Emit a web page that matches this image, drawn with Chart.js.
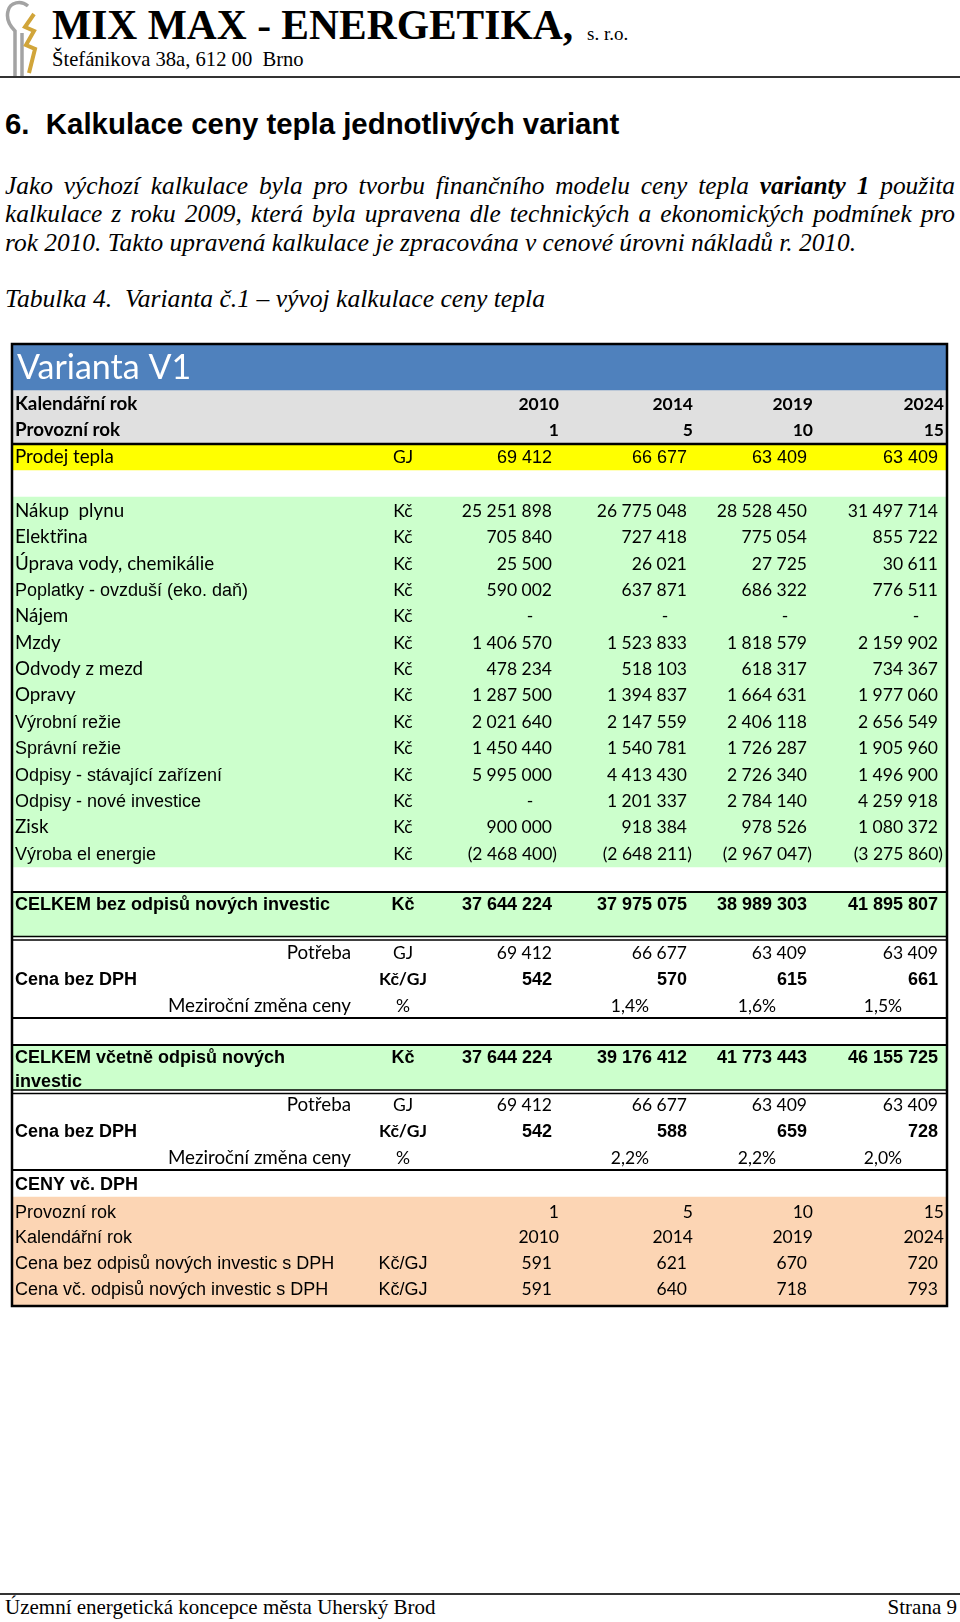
<!DOCTYPE html>
<html lang="cs">
<head>
<meta charset="utf-8">
<title>Varianta V1 – vývoj kalkulace ceny tepla</title>
<script src="https://cdn.jsdelivr.net/npm/chart.js@4.4.1/dist/chart.umd.min.js"></script>
<style>
  html, body { margin: 0; padding: 0; background: #fff; }
  body { width: 960px; height: 1622px; position: relative; overflow: hidden; }
  .abs { position: absolute; white-space: nowrap; line-height: 1; }
  .serif { font-family: "Liberation Serif", "Times New Roman", serif; }
  .sans { font-family: "Liberation Sans", Arial, sans-serif; }
  .it { font-style: italic; }
  .just { text-align: justify; text-align-last: justify; }
  .rule { position: absolute; left: 0; width: 960px; height: 2px; background: #333; }
  #tabulka { position: absolute; left: 0; top: 340px; width: 960px; height: 970px; }
</style>
</head>
<body>

<!-- hlavička firmy -->
<svg class="abs" style="left:0;top:0" width="46" height="80" viewBox="0 0 46 80">
  <path d="M28 6 C21 0 10 2 8 11 C6 19 10 26 15 31 L15 77" fill="none" stroke="#a3a3a3" stroke-width="3.5"/>
  <path d="M22 33 L22 77" fill="none" stroke="#a3a3a3" stroke-width="3.5"/>
  <path d="M34 14 L25 27 L34 31 L26 45 L35 49 L29 73" fill="none" stroke="#d1a53a" stroke-width="4" stroke-linejoin="miter"/>
</svg>
<div class="abs serif" style="left:52px;top:5px;font-size:41.5px;font-weight:bold">MIX MAX - ENERGETIKA,</div>
<div class="abs serif" style="left:587px;top:24px;font-size:19px">s. r.o.</div>
<div class="abs serif" style="left:52px;top:49px;font-size:20.6px">Štefánikova 38a, 612 00&nbsp; Brno</div>
<div class="rule" style="top:76px"></div>

<div class="abs sans" style="left:5px;top:109px;font-size:29.4px;font-weight:bold">6.&nbsp; Kalkulace ceny tepla jednotlivých variant</div>

<div class="abs serif it just" style="left:5px;top:173px;width:950px;font-size:25.4px">Jako výchozí kalkulace byla pro tvorbu finančního modelu ceny tepla <b>varianty 1</b> použita</div>
<div class="abs serif it just" style="left:5px;top:201px;width:950px;font-size:25.4px">kalkulace z roku 2009, která byla upravena dle technických a ekonomických podmínek pro</div>
<div class="abs serif it" style="left:5px;top:230px;font-size:25.4px">rok 2010. Takto upravená kalkulace je zpracována v cenové úrovni nákladů r. 2010.</div>

<div class="abs serif it" style="left:5px;top:286px;font-size:25.6px">Tabulka 4.&nbsp; Varianta č.1 – vývoj kalkulace ceny tepla</div>

<div id="tabulka"><canvas id="graf" width="960" height="970"></canvas></div>

<div class="rule" style="top:1593px"></div>
<div class="abs serif" style="left:5px;top:1597px;font-size:21px">Územní energetická koncepce města Uherský Brod</div>
<div class="abs serif" style="right:3px;top:1597px;font-size:21px">Strana 9</div>

<script>
// Záhlaví sloupců
const kalendarniRok = [2010, 2014, 2019, 2024];
const provozniRok = [1, 5, 10, 15];
const hlavickaRadky = ['Kalendářní rok', 'Provozní rok'];

const prodejTepla = [69412, 66677, 63409, 63409];

// Nákladové položky (Kč)
const polozky = [
    'Nákup  plynu', 'Elektřina', 'Úprava vody, chemikálie', 'Poplatky - ovzduší (eko. daň)',
    'Nájem', 'Mzdy', 'Odvody z mezd', 'Opravy', 'Výrobní režie', 'Správní režie',
    'Odpisy - stávající zařízení', 'Odpisy - nové investice', 'Zisk', 'Výroba el energie'
];
const naklady2010 = [25251898, 705840, 25500, 590002, 0, 1406570, 478234, 1287500, 2021640, 1450440, 5995000, 0, 900000, -2468400];
const naklady2014 = [26775048, 727418, 26021, 637871, 0, 1523833, 518103, 1394837, 2147559, 1540781, 4413430, 1201337, 918384, -2648211];
const naklady2019 = [28528450, 775054, 27725, 686322, 0, 1818579, 618317, 1664631, 2406118, 1726287, 2726340, 2784140, 978526, -2967047];
const naklady2024 = [31497714, 855722, 30611, 776511, 0, 2159902, 734367, 1977060, 2656549, 1905960, 1496900, 4259918, 1080372, -3275860];

// Souhrny a ceny
const celkemBezOdpisu = [37644224, 37975075, 38989303, 41895807];
const celkemVcOdpisu = [37644224, 39176412, 41773443, 46155725];
const potreba = [69412, 66677, 63409, 63409];
const cenaBezOdpisu = [542, 570, 615, 661];
const zmenaBezOdpisu = [null, 1.4, 1.6, 1.5];
const cenaVcOdpisu = [542, 588, 659, 728];
const zmenaVcOdpisu = [null, 2.2, 2.2, 2.0];
const cenaRadky = ['Potřeba', 'Cena bez DPH', 'Meziroční změna ceny'];

const dphRadky = ['Provozní rok', 'Kalendářní rok', 'Cena bez odpisů nových investic s DPH', 'Cena vč. odpisů nových investic s DPH'];
const cenaBezOdpisuDph = [591, 621, 670, 720];
const cenaVcOdpisuDph = [591, 640, 718, 793];

// ---- rozvržení (pixely stránky) ----
const TOP = 340, H = 970;
const X0 = 13, X1 = 946;
const colHead = [559, 693, 813, 944];
const colNum = [552, 687, 807, 938];
const colPct = [0, 630, 757, 883];
const unitX = 403, labelX = 15, subLabelX = 351;
const arialPolozky = [3, 8, 9, 10, 11, 13];

const pasy = [
    { top: 345, bottom: 390, color: '#4f81bd' },
    { top: 390, bottom: 444, color: '#e0e0e0' },
    { top: 445, bottom: 470, color: '#ffff00' },
    { top: 497, bottom: 867, color: '#ccffcc' },
    { top: 892, bottom: 937, color: '#ccffcc' },
    { top: 1045, bottom: 1090, color: '#ccffcc' },
    { top: 1197, bottom: 1305, color: '#fcd5b4' }
];
const cary = [[444, 2.5], [892, 2], [936.5, 1.5], [940, 1.5], [1018, 2], [1045, 2], [1090, 1.5], [1093.5, 1.5], [1170, 2]];

const C = '17.5px Lato';       // čísla (Calibri)
const L = '18.8px Lato';       // popisky (Calibri)
const LB = 'bold 18.8px Lato';
const CB = 'bold 17.5px Lato';
const A = '18px "Liberation Sans"';
const AB = 'bold 18px "Liberation Sans"';

function cislo(n) {
    return String(n).replace(/\B(?=(\d{3})+(?!\d))/g, ' ');
}
function procenta(n) {
    return n.toFixed(1).replace('.', ',') + '%';
}

const tabulkaPlugin = {
    id: 'tabulka',
    afterDatasetsDraw(chart) {
        const ctx = chart.ctx;
        const sx = chart.scales.x, sy = chart.scales.y;
        const X = v => sx.getPixelForValue(v);
        const Y = v => sy.getPixelForValue(v - TOP);
        ctx.save();
        ctx.strokeStyle = '#000';
        cary.forEach(([y, w]) => {
            ctx.lineWidth = w;
            ctx.beginPath();
            ctx.moveTo(X(X0 - 1), Y(y));
            ctx.lineTo(X(X1 + 1), Y(y));
            ctx.stroke();
        });
        ctx.lineWidth = 2.5;
        ctx.strokeRect(X(12), Y(344), X(947) - X(12), Y(1306) - Y(344));

        ctx.textBaseline = 'alphabetic';
        const t = (s, x, y, align, font, color) => {
            ctx.fillStyle = color || '#000';
            ctx.font = font;
            ctx.textAlign = align;
            ctx.fillText(s, X(x), Y(y));
        };
        const bunka = (v, c, y, font) => {
            if (v === 0) t('-', colNum[c] - 22, y, 'center', font);
            else if (v < 0) t('(' + cislo(-v) + ')', colNum[c] + 5, y, 'right', font);
            else t(cislo(v), colNum[c], y, 'right', font);
        };

        t('Varianta V1', 17, 379, 'left', '34px Lato', '#fff');

        [kalendarniRok, provozniRok].forEach((arr, r) => {
            const y = [410, 436][r];
            t(hlavickaRadky[r], labelX, y, 'left', LB);
            arr.forEach((v, i) => t(String(v), colHead[i], y, 'right', CB));
        });

        t('Prodej tepla', labelX, 463, 'left', L);
        t('GJ', unitX, 463, 'center', C);
        prodejTepla.forEach((v, i) => bunka(v, i, 463, A));

        const sloupce = [naklady2010, naklady2014, naklady2019, naklady2024];
        polozky.forEach((p, i) => {
            const y = 517 + i * 26.35;
            t(p, labelX, y, 'left', arialPolozky.includes(i) ? A : L);
            t('Kč', unitX, y, 'center', C);
            sloupce.forEach((arr, c) => bunka(arr[i], c, y, C));
        });

        t('CELKEM bez odpisů nových investic', labelX, 910, 'left', AB);
        t('Kč', unitX, 910, 'center', AB);
        celkemBezOdpisu.forEach((v, i) => bunka(v, i, 910, AB));

        const cenovyBlok = (y0, ceny, zmeny) => {
            t(cenaRadky[0], subLabelX, y0, 'right', L);
            t('GJ', unitX, y0, 'center', C);
            potreba.forEach((v, i) => bunka(v, i, y0, C));
            t(cenaRadky[1], labelX, y0 + 26, 'left', AB);
            t('Kč/GJ', unitX, y0 + 26, 'center', CB);
            ceny.forEach((v, i) => bunka(v, i, y0 + 26, AB));
            t(cenaRadky[2], subLabelX, y0 + 53, 'right', L);
            t('%', unitX, y0 + 53, 'center', C);
            zmeny.forEach((v, i) => { if (v !== null) t(procenta(v), colPct[i], y0 + 53, 'center', C); });
        };
        cenovyBlok(959, cenaBezOdpisu, zmenaBezOdpisu);

        t('CELKEM včetně odpisů nových', labelX, 1063, 'left', AB);
        t('investic', labelX, 1087, 'left', AB);
        t('Kč', unitX, 1063, 'center', AB);
        celkemVcOdpisu.forEach((v, i) => bunka(v, i, 1063, AB));

        cenovyBlok(1111, cenaVcOdpisu, zmenaVcOdpisu);

        t('CENY vč. DPH', labelX, 1190, 'left', AB);
        t(dphRadky[0], labelX, 1218, 'left', A);
        provozniRok.forEach((v, i) => t(String(v), colHead[i], 1218, 'right', C));
        t(dphRadky[1], labelX, 1243, 'left', A);
        kalendarniRok.forEach((v, i) => t(String(v), colHead[i], 1243, 'right', C));
        [cenaBezOdpisuDph, cenaVcOdpisuDph].forEach((arr, r) => {
            const y = [1269, 1295][r];
            t(dphRadky[2 + r], labelX, y, 'left', A);
            t('Kč/GJ', unitX, y, 'center', A);
            arr.forEach((v, i) => bunka(v, i, y, C));
        });
        ctx.restore();
    }
};

// Pásy pozadí jako plovoucí vodorovné sloupce
const ctx = document.getElementById('graf').getContext('2d');
const graf = new Chart(ctx, {
    type: 'bar',
    data: {
        datasets: pasy.map(p => ({
            data: [{ x: [X0, X1], y: (p.top + p.bottom) / 2 - TOP }],
            backgroundColor: p.color,
            barThickness: p.bottom - p.top,
            grouped: false,
            borderWidth: 0
        }))
    },
    options: {
        indexAxis: 'y',
        responsive: false,
        animation: false,
        events: [],
        layout: { padding: 0 },
        plugins: { legend: { display: false }, tooltip: { enabled: false } },
        scales: {
            x: { type: 'linear', min: 0, max: 960, display: false, offset: false },
            y: { type: 'linear', min: 0, max: H, reverse: true, display: false, offset: false }
        }
    },
    plugins: [tabulkaPlugin]
});
</script>
</body>
</html>
